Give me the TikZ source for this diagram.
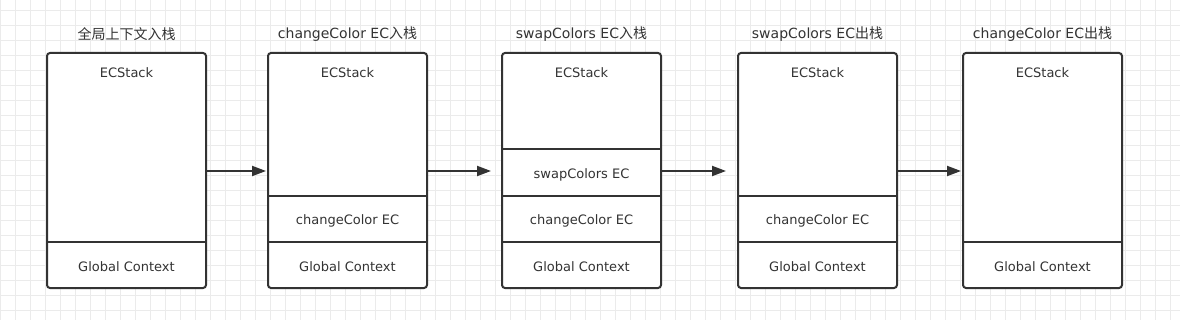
\documentclass[tikz,border=0pt]{standalone}
\usepackage{fontspec}
\setmainfont{DejaVu Sans}
\newfontfamily\cjk{Noto Sans CJK SC}
\usetikzlibrary{arrows.meta}
\definecolor{ink}{HTML}{333333}
\definecolor{gridc}{HTML}{EBEBEB}
\tikzset{
  stackbox/.style={draw=ink, line width=2pt, rounded corners=3pt},
  divider/.style={draw=ink, line width=2pt},
  lbl/.style={text=ink, font=\fontsize{13}{15}\selectfont, inner sep=0pt, yshift=-1.5pt},
  ttl/.style={text=ink, font=\fontsize{14}{16}\selectfont, inner sep=0pt, yshift=-1pt},
  flow/.style={draw=ink, line width=2pt, -{Triangle[length=14pt,width=10pt]}, shorten >=2pt},
}
\begin{document}
\begin{tikzpicture}[x=1pt,y=-1pt]
\useasboundingbox (0,0) rectangle (1180,320);
\fill[white] (0,0) rectangle (1180,320);
% grid
\foreach \gx in {0,15,...,1180} \draw[gridc, line width=0.8pt] (\gx,0) -- (\gx,320);
\foreach \gy in {10,25,...,320} \draw[gridc, line width=0.8pt] (0,\gy) -- (1180,\gy);

% box 1
\fill[white] (47,53) rectangle (206,288);
\draw[stackbox] (47,53) rectangle (206,288);
\draw[divider] (47,242) -- (206,242);
\node[ttl] (t1) at (126.5,33) {\cjk 全局上下文入栈};
\node[lbl] (s1) at (126.5,71) {ECStack};
\node[lbl] (g1) at (126.5,265) {Global Context};
\coordinate (b1r) at (206,171);

% box 2
\fill[white] (268,53) rectangle (427,288);
\draw[stackbox] (268,53) rectangle (427,288);
\draw[divider] (268,196) -- (427,196);
\draw[divider] (268,242) -- (427,242);
\node[ttl] (t2) at (347.5,33) {changeColor EC{\cjk 入栈}};
\node[lbl] (s2) at (347.5,71) {ECStack};
\node[lbl] (c2) at (347.5,219) {changeColor EC};
\node[lbl] (g2) at (347.5,265) {Global Context};
\coordinate (b2l) at (268,171);
\coordinate (b2r) at (427,171);

% box 3
\fill[white] (502,53) rectangle (661,288);
\draw[stackbox] (502,53) rectangle (661,288);
\draw[divider] (502,149) -- (661,149);
\draw[divider] (502,196) -- (661,196);
\draw[divider] (502,242) -- (661,242);
\node[ttl] (t3) at (581.5,33) {swapColors EC{\cjk 入栈}};
\node[lbl] (s3) at (581.5,71) {ECStack};
\node[lbl] (w3) at (581.5,173) {swapColors EC};
\node[lbl] (c3) at (581.5,219) {changeColor EC};
\node[lbl] (g3) at (581.5,265) {Global Context};
\coordinate (b3l) at (493,171);
\coordinate (b3r) at (661,171);

% box 4
\fill[white] (738,53) rectangle (897,288);
\draw[stackbox] (738,53) rectangle (897,288);
\draw[divider] (738,196) -- (897,196);
\draw[divider] (738,242) -- (897,242);
\node[ttl] (t4) at (817.5,33) {swapColors EC{\cjk 出栈}};
\node[lbl] (s4) at (817.5,71) {ECStack};
\node[lbl] (c4) at (817.5,219) {changeColor EC};
\node[lbl] (g4) at (817.5,265) {Global Context};
\coordinate (b4l) at (728,171);
\coordinate (b4r) at (897,171);

% box 5
\fill[white] (963,53) rectangle (1122,288);
\draw[stackbox] (963,53) rectangle (1122,288);
\draw[divider] (963,242) -- (1122,242);
\node[ttl] (t5) at (1042.5,33) {changeColor EC{\cjk 出栈}};
\node[lbl] (s5) at (1042.5,71) {ECStack};
\node[lbl] (g5) at (1042.5,265) {Global Context};
\coordinate (b5l) at (963,171);

% arrows
\draw[flow] (b1r) -- (b2l);
\draw[flow] (b2r) -- (b3l);
\draw[flow] (b3r) -- (b4l);
\draw[flow] (b4r) -- (b5l);
\end{tikzpicture}
\end{document}
